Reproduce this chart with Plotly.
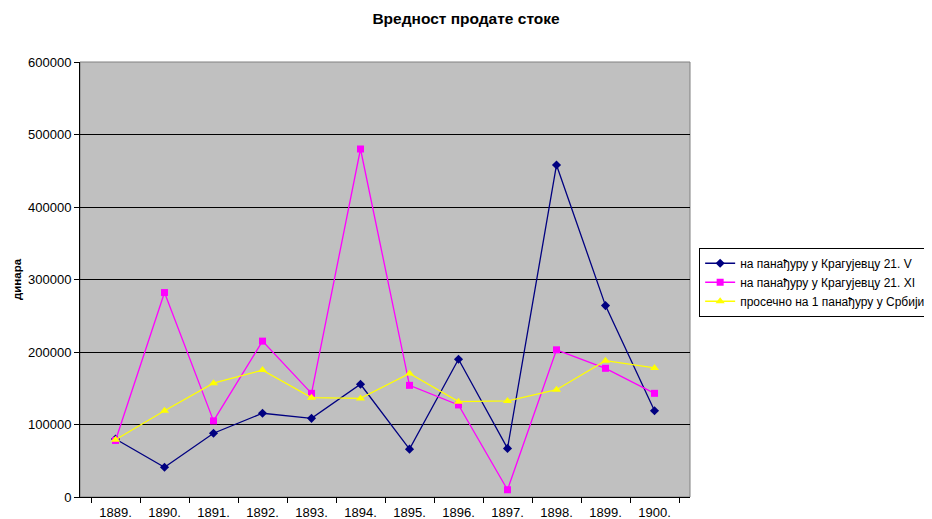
import plotly.graph_objects as go

years = ["1889.", "1890.", "1891.", "1892.", "1893.", "1894.", "1895.", "1896.", "1897.", "1898.", "1899.", "1900."]
may_fair = [80000, 41000, 88000, 115500, 108500, 155500, 66000, 190000, 67000, 458000, 264000, 119000]
nov_fair = [78000, 282000, 105000, 215000, 143000, 480000, 154000, 127000, 10000, 203000, 177500, 143000]
avg_serbia = [79000, 119000, 157000, 175000, 137000, 136000, 170500, 131500, 132500, 148000, 188000, 178000]

names = ["на панађуру у Крагујевцу 21. V", "на панађуру у Крагујевцу 21. XI", "просечно на 1 панађуру у Србији"]
font = "Liberation Sans, Arial, sans-serif"

fig = go.Figure()
fig.add_trace(go.Scatter(x=years, y=may_fair, name=names[0], mode="lines+markers",
                         line=dict(color="#000080", width=1.3),
                         marker=dict(symbol="diamond", size=7, color="#000080")))
fig.add_trace(go.Scatter(x=years, y=nov_fair, name=names[1], mode="lines+markers",
                         line=dict(color="#FF00FF", width=1.3),
                         marker=dict(symbol="square", size=7, color="#FF00FF")))
fig.add_trace(go.Scatter(x=years, y=avg_serbia, name=names[2], mode="lines+markers",
                         line=dict(color="#FFFF00", width=1.3),
                         marker=dict(symbol="triangle-up", size=8, color="#FFFF00")))

fig.update_layout(
    width=924, height=511,
    margin=dict(l=72, r=242, t=54, b=22, autoexpand=False),
    paper_bgcolor="white", plot_bgcolor="#C0C0C0",
    font=dict(family=font, size=13, color="black"),
    title=dict(text="<b>Вредност продате стоке</b>", x=0.4957, xref="container", xanchor="center",
               y=0.980, yref="container", yanchor="middle", font=dict(size=15.5, family=font)),
    showlegend=True,
    legend=dict(x=1.015, y=0.573, xanchor="left", yanchor="top",
                bgcolor="white", bordercolor="black", borderwidth=1,
                font=dict(size=12, family=font), tracegroupgap=0, itemwidth=30),
    xaxis=dict(type="category", showgrid=False, ticks="outside", tickson="boundaries",
               ticklen=5, tickcolor="black", showline=True, linecolor="black", linewidth=1,
               tickfont=dict(size=13), zeroline=False, ticklabelstandoff=3),
    yaxis=dict(range=[0, 600000], dtick=100000, tickformat="d", showgrid=True,
               gridcolor="black", gridwidth=1, ticks="outside", ticklen=5, tickcolor="black",
               showline=True, linecolor="black", linewidth=1, zeroline=False,
               title=dict(text="<b>динара</b>", font=dict(size=11.5), standoff=3),
               tickfont=dict(size=13)),
)
fig.add_shape(type="rect", xref="paper", yref="paper", x0=0, x1=1, y0=0, y1=1,
              line=dict(color="#808080", width=1), layer="below")
fig.write_html("out.html")
